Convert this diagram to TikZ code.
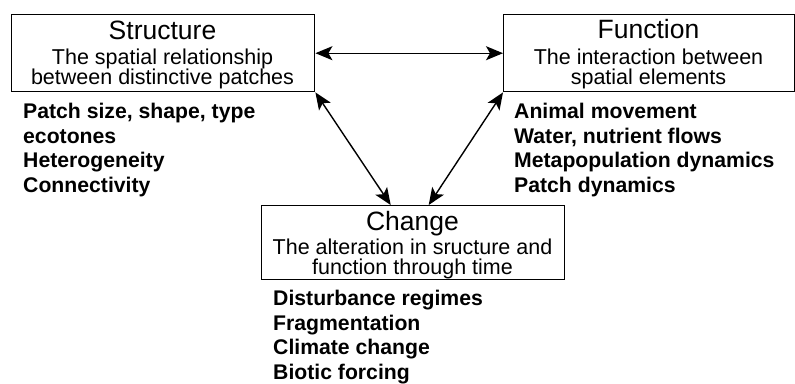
\documentclass[tikz,border=0pt]{standalone}
\usepackage{fontspec}
\setmainfont{Liberation Sans}
\usetikzlibrary{arrows.meta}
\begin{document}
\begin{tikzpicture}[x=1pt,y=-1pt,
  panel/.style={draw, line width=1.4pt, inner sep=0pt, anchor=north west},
  title/.style={anchor=base, inner sep=0pt, font=\fontsize{26.5}{28}\selectfont},
  subtitle/.style={anchor=base, inner sep=0pt, font=\fontsize{21.5}{23}\selectfont},
  item/.style={anchor=base west, inner sep=0pt, font=\fontsize{21.2}{23}\selectfont\bfseries},
  link/.style={line width=1.4pt, {Stealth[length=17pt,width=14pt,inset=4pt]}-{Stealth[length=17pt,width=14pt,inset=4pt]}}]
\useasboundingbox (0,0) rectangle (795,383);

% three panels
\node[panel, minimum width=303pt, minimum height=77pt] (s) at (11,14) {};
\node[panel, minimum width=291pt, minimum height=77pt] (f) at (503,14) {};
\node[panel, minimum width=303pt, minimum height=74pt] (c) at (261,205) {};

% Structure
\node[title]    (st) at (162.5,39) {Structure};
\node[subtitle] (s1) at (162.5,64) {The spatial relationship};
\node[subtitle] (s2) at (162.5,84) {between distinctive patches};
\node[item] (sa) at (23,118.5) {Patch size, shape, type};
\node[item] (sb) at (23,143)   {ecotones};
\node[item] (sc) at (23,167.5) {Heterogeneity};
\node[item] (sd) at (23,192)   {Connectivity};

% Function
\node[title]    (ft) at (648.5,38) {Function};
\node[subtitle] (f1) at (648.5,64) {The interaction between};
\node[subtitle] (f2) at (648.5,84) {spatial elements};
\node[item] (fa) at (514,118.5) {Animal movement};
\node[item] (fb) at (514,143)   {Water, nutrient flows};
\node[item] (fc) at (514,167.5) {Metapopulation dynamics};
\node[item] (fd) at (514,192)   {Patch dynamics};

% Change
\node[title]    (ct) at (412.5,230) {Change};
\node[subtitle] (c1) at (412.5,254) {The alteration in sructure and};
\node[subtitle] (c2) at (412.5,274) {function through time};
\node[item] (ca) at (273,305)   {Disturbance regimes};
\node[item] (cb) at (273,330)   {Fragmentation};
\node[item] (cc) at (273,354.5) {Climate change};
\node[item] (cd) at (273,379)   {Biotic forcing};

% two-way links
\draw[link] (s.east) -- (f.west);
\draw[link] (s.south east) -- ([xshift=-22.5pt]c.north);
\draw[link] (f.south west) -- ([xshift=15.5pt]c.north);
\end{tikzpicture}
\end{document}
